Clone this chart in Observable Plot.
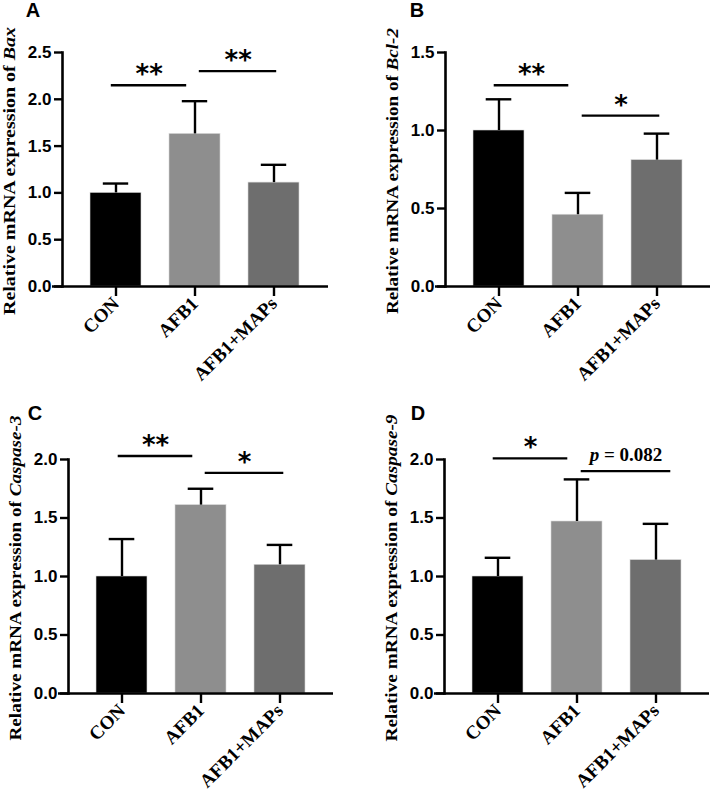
<!DOCTYPE html>
<html><head><meta charset="utf-8">
<script src="https://cdn.jsdelivr.net/npm/d3@7"></script>
<script src="https://cdn.jsdelivr.net/npm/@observablehq/plot@0.6"></script>
<style>
body{margin:0;background:#fff}
#root{position:relative;width:711px;height:795px;overflow:hidden;background:#fff}
.panel{position:absolute}
</style></head><body><div id="root"></div>
<script>
const groups = ["CON", "AFB1", "AFB1+MAPs"];
const barColors = ["#000000", "#8e8e8e", "#6e6e6e"];
const sigFrom = ["CON", "AFB1"];
const sigTo = ["AFB1", "AFB1+MAPs"];

// Panel A – Bax
const baxMean = [1.00, 1.63, 1.11];
const baxUpper = [1.10, 1.98, 1.30];
const baxSigY = [2.15, 2.30];
const baxSigText = ["**", "**"];
const baxTicks = [0, 0.5, 1.0, 1.5, 2.0, 2.5];

// Panel B – Bcl-2
const bcl2Mean = [1.00, 0.46, 0.81];
const bcl2Upper = [1.20, 0.60, 0.98];
const bcl2SigY = [1.29, 1.095];
const bcl2SigText = ["**", "*"];
const bcl2Ticks = [0, 0.5, 1.0, 1.5];

// Panel C – Caspase-3
const casp3Mean = [1.00, 1.61, 1.10];
const casp3Upper = [1.32, 1.75, 1.27];
const casp3SigY = [2.03, 1.885];
const casp3SigText = ["**", "*"];
const casp3Ticks = [0, 0.5, 1.0, 1.5, 2.0];

// Panel D – Caspase-9
const casp9Mean = [1.00, 1.47, 1.14];
const casp9Upper = [1.16, 1.83, 1.45];
const casp9SigY = [2.01, 1.90];
const casp9SigText = ["*", "p = 0.082"];
const casp9Ticks = [0, 0.5, 1.0, 1.5, 2.0];

const SERIF = "'Liberation Serif','Times New Roman',serif";
const SANS = "'Liberation Sans',Arial,sans-serif";
const PAD = 0.35;

function panel(o) {
  const step = (o.W - o.ml - o.mr) / (groups.length + PAD);
  const bw = step * (1 - PAD);
  const rows = groups.map((g, i) => ({g, mean: o.mean[i], upper: o.upper[i]}));
  const sig = o.sigY.map((y, i) => ({from: sigFrom[i], to: sigTo[i], y, text: o.sigText[i]}));
  const marks = [
    Plot.barY(rows, {x: "g", y: "mean", fill: "g", stroke: "#d8d8d8", strokeWidth: 0.6}),
    Plot.ruleX(rows, {x: "g", y1: "mean", y2: "upper", stroke: "#000", strokeWidth: 2.4}),
    Plot.tickY(rows, {x: "g", y: "upper", stroke: "#000", strokeWidth: 2.4, insetLeft: (bw - 26) / 2, insetRight: (bw - 26) / 2}),
    Plot.axisY({ticks: o.ticks, tickSize: 8, tickPadding: 3, strokeWidth: 2.4, tickFormat: d3.format(".1f"),
      fontSize: 17, fontWeight: "bold", fontFamily: SANS, label: null}),
    Plot.axisX({tickRotate: -45, tickSize: 10, tickPadding: 4, strokeWidth: 2.4,
      fontSize: 19, fontWeight: "bold", fontFamily: SERIF, label: null}),
    Plot.ruleY([0], {stroke: "#000", strokeWidth: 2.6, insetLeft: -10}),
    Plot.frame({anchor: "left", stroke: "#000", strokeWidth: 2.6}),
    ...sig.map((s, i) => Plot.ruleY([s], {x1: "from", x2: "to", y: "y", stroke: "#000", strokeWidth: 2.3,
      insetLeft: bw / 2 + o.ins[i][0], insetRight: bw / 2 + o.ins[i][1]})),
    ...sig.map((s, i) => {
      const isP = s.text.startsWith("p");
      return Plot.text([s], {x: "from", y: "y", text: "text",
        dx: step / 2 + (o.ins[i][0] - o.ins[i][1]) / 2,
        dy: isP ? -10 : -2, lineAnchor: "bottom", textAnchor: "middle",
        fontSize: isP ? 19 : 26, fontWeight: "bold", fontFamily: isP ? SERIF : "'DejaVu Sans',sans-serif"});
    })
  ];
  const svg = Plot.plot({
    width: o.W, height: o.H,
    marginLeft: o.ml, marginRight: o.mr, marginTop: o.mt, marginBottom: o.mb,
    x: {domain: groups, padding: PAD},
    y: {domain: [0, o.yMax]},
    color: {domain: groups, range: barColors},
    style: {overflow: "visible", background: "transparent", color: "#000"},
    marks
  });
  const s = d3.select(svg);
  // italic p in p-value label
  s.selectAll("text").filter(function() { return this.textContent.startsWith("p = "); })
    .each(function() {
      const t = d3.select(this);
      const txt = this.textContent;
      const tgt = t.select("tspan").empty() ? t : t.select("tspan");
      tgt.text(null);
      tgt.append("tspan").attr("font-style", "italic").text("p");
      tgt.append("tspan").text(txt.slice(1));
    });
  // y-axis title with italic gene name
  const cy = (o.mt + (o.H - o.mb)) / 2 + 2;
  const yl = s.append("text")
    .attr("transform", `translate(${o.ml - 47},${cy}) rotate(-90)`)
    .attr("text-anchor", "middle")
    .attr("textLength", o.tl).attr("lengthAdjust", "spacingAndGlyphs")
    .attr("font-family", SERIF).attr("font-weight", "bold").attr("font-size", 17).attr("fill", "#000");
  yl.append("tspan").text("Relative mRNA expression of ");
  yl.append("tspan").attr("font-style", "italic").text(o.gene);
  // panel letter
  s.append("text").attr("x", o.lx).attr("y", o.ly)
    .attr("font-family", SANS).attr("font-weight", "bold").attr("font-size", 20).attr("fill", "#000")
    .text(o.letter);
  const div = document.createElement("div");
  div.className = "panel";
  div.style.left = o.left + "px";
  div.style.top = o.top + "px";
  div.appendChild(svg);
  document.getElementById("root").appendChild(div);
}

panel({left: 0, top: 0, W: 355, H: 395, ml: 62, mr: 27, mt: 52, mb: 109, yMax: 2.5, ticks: baxTicks,
  mean: baxMean, upper: baxUpper, sigY: baxSigY, sigText: baxSigText, ins: [[-5, 8], [4, -3]],
  gene: "Bax", letter: "A", lx: 33, ly: 17, tl: 288});
panel({left: 355, top: 0, W: 356, H: 395, ml: 90, mr: 1, mt: 52, mb: 109, yMax: 1.5, ticks: bcl2Ticks,
  mean: bcl2Mean, upper: bcl2Upper, sigY: bcl2SigY, sigText: bcl2SigText, ins: [[-5, 9], [4, -3]],
  gene: "Bcl-2", letter: "B", lx: 62, ly: 17, tl: 286});
panel({left: 0, top: 395, W: 355, H: 400, ml: 68, mr: 22, mt: 64, mb: 102, yMax: 2.0, ticks: casp3Ticks,
  mean: casp3Mean, upper: casp3Upper, sigY: casp3SigY, sigText: casp3SigText, ins: [[-4, 8], [4, -4]],
  gene: "Caspase-3", letter: "C", lx: 35, ly: 25, tl: 325});
panel({left: 355, top: 395, W: 356, H: 400, ml: 89, mr: 2, mt: 64, mb: 102, yMax: 2.0, ticks: casp9Ticks,
  mean: casp9Mean, upper: casp9Upper, sigY: casp9SigY, sigText: casp9SigText, ins: [[-5, 9], [4, -15]],
  gene: "Caspase-9", letter: "D", lx: 63, ly: 25, tl: 327});
</script>
</body></html>
